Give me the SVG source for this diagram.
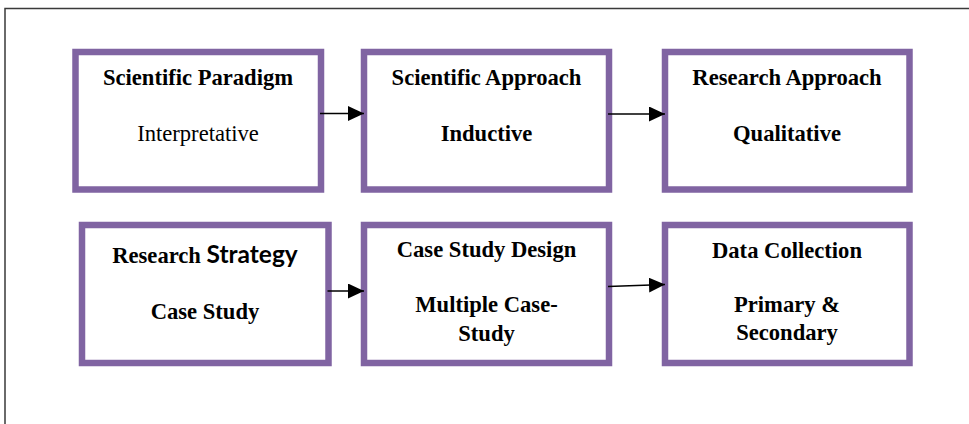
<svg xmlns="http://www.w3.org/2000/svg" width="969" height="424" viewBox="0 0 969 424">
  <style>
    .box { fill: #ffffff; stroke: #8064a2; stroke-width: 6.5; }
    .t { font-family: "Liberation Serif", "Times New Roman", serif; font-size: 22.6px; fill: #000; text-anchor: middle; }
    .b { font-weight: bold; }
    .sans { font-family: Lato, "Open Sans", "Liberation Sans", sans-serif; font-weight: bold; font-size: 24.5px; }
    .conn { stroke: #000; stroke-width: 1.6; fill: none; }
    .frame { stroke: #3a3a3a; stroke-width: 1.5; fill: none; }
  </style>
  <defs>
    <marker id="arrow" markerUnits="userSpaceOnUse" markerWidth="16" markerHeight="15" refX="16" refY="7.5" orient="auto">
      <path d="M0,0 L16,7.5 L0,15 Z" fill="#000"/>
    </marker>
  </defs>

  <rect width="969" height="424" fill="#ffffff"/>
  <!-- page frame -->
  <path class="frame" d="M5,424 L5,8.5 L969,8.5"/>

  <g id="scientific-paradigm">
    <rect class="box" x="75.5" y="52" width="245.5" height="137.5"/>
    <text class="t b" x="198" y="85">Scientific Paradigm</text>
    <text class="t" x="198" y="141">Interpretative</text>
  </g>

  <g id="scientific-approach">
    <rect class="box" x="364" y="52" width="245" height="137.5"/>
    <text class="t b" x="486.5" y="85">Scientific Approach</text>
    <text class="t b" x="486.5" y="141">Inductive</text>
  </g>

  <g id="research-approach">
    <rect class="box" x="665" y="52" width="244.5" height="137.5"/>
    <text class="t b" x="787" y="84.5">Research Approach</text>
    <text class="t b" x="787" y="141">Qualitative</text>
  </g>

  <g id="research-strategy">
    <rect class="box" x="82" y="225" width="246.5" height="138"/>
    <text class="t b" x="205" y="263">Research <tspan class="sans">Strategy</tspan></text>
    <text class="t b" x="205" y="318.5">Case Study</text>
  </g>

  <g id="case-study-design">
    <rect class="box" x="364" y="225" width="245" height="138"/>
    <text class="t b" x="486.5" y="257">Case Study Design</text>
    <text class="t b" x="486.5" y="312">Multiple Case-</text>
    <text class="t b" x="486.5" y="341">Study</text>
  </g>

  <g id="data-collection">
    <rect class="box" x="665" y="225" width="244.5" height="138"/>
    <text class="t b" x="787" y="257.5">Data Collection</text>
    <text class="t b" x="787" y="311.5">Primary &amp;</text>
    <text class="t b" x="787" y="340">Secondary</text>
  </g>

  <g id="connectors">
    <line class="conn" x1="320" y1="113.5" x2="364" y2="113.5" marker-end="url(#arrow)"/>
    <line class="conn" x1="608" y1="114" x2="665" y2="114" marker-end="url(#arrow)"/>
    <line class="conn" x1="327.5" y1="291" x2="364" y2="291" marker-end="url(#arrow)"/>
    <line class="conn" x1="608" y1="286.5" x2="665" y2="284.5" marker-end="url(#arrow)"/>
  </g>
</svg>
